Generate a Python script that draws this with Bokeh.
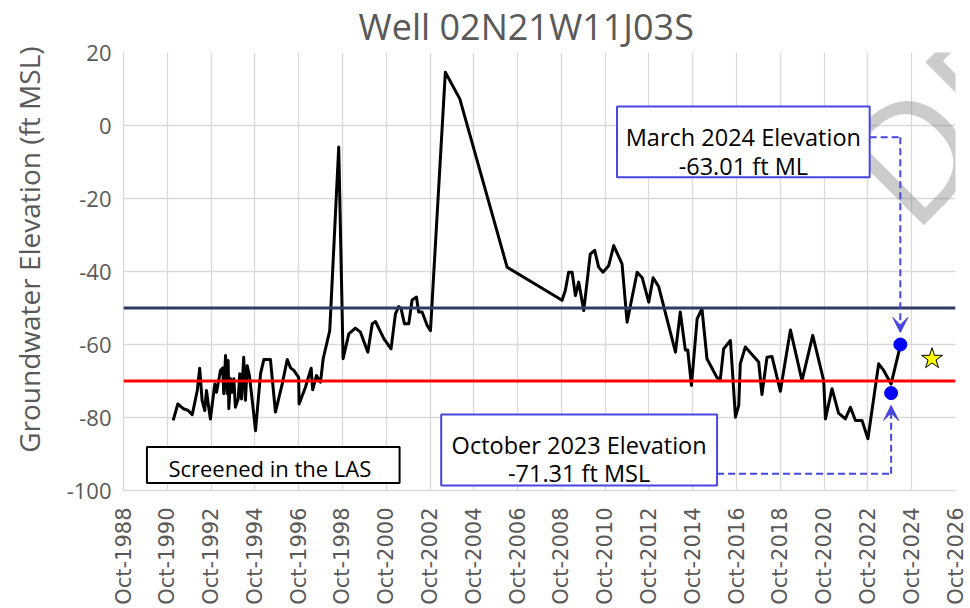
import numpy as np
from bokeh.plotting import figure
from bokeh.models import FixedTicker, Span, Label, BoxAnnotation, Arrow, VeeHead
from bokeh.embed import file_html
from bokeh.resources import INLINE

# ---------------- data ----------------
title_text = "Well 02N21W11J03S"
y_axis_label = "Groundwater Elevation (ft MSL)"

# decimal years of each measurement
years = [
    1991.02, 1991.23, 1991.48, 1991.69, 1991.89, 1992.12, 1992.23, 1992.34, 1992.46, 1992.54,
    1992.62, 1992.72, 1992.92, 1993.00, 1993.18, 1993.28, 1993.33, 1993.41, 1993.49, 1993.53,
    1993.56, 1993.64, 1993.71, 1993.79, 1993.86, 1993.99, 1994.06, 1994.14, 1994.24, 1994.32,
    1994.40, 1994.50, 1994.63, 1994.78, 1995.01, 1995.16, 1995.46, 1995.69, 1996.00, 1996.23,
    1996.38, 1996.53, 1996.75, 1996.77, 1997.06, 1997.32, 1997.39, 1997.56, 1997.75, 1997.87,
    1998.17, 1998.58, 1998.78, 1999.04, 1999.34, 1999.57, 1999.91, 2000.11, 2000.26, 2000.64,
    2000.97, 2001.17, 2001.32, 2001.43, 2001.58, 2001.78, 2001.93, 2002.13, 2002.23, 2002.39,
    2002.62, 2002.77, 2003.45, 2004.11, 2006.27, 2008.78, 2008.93, 2009.08, 2009.24, 2009.39,
    2009.54, 2009.77, 2010.07, 2010.27, 2010.45, 2010.65, 2010.91, 2011.14, 2011.52, 2011.75,
    2012.21, 2012.44, 2012.74, 2012.94, 2013.19, 2013.96, 2014.18, 2014.41, 2014.52, 2014.69,
    2014.95, 2015.17, 2015.40, 2015.86, 2016.01, 2016.16, 2016.47, 2016.70, 2016.85, 2016.92,
    2017.15, 2017.76, 2017.91, 2018.14, 2018.37, 2018.75, 2019.21, 2019.74, 2020.23, 2020.73,
    2020.81, 2021.11, 2021.41, 2021.72, 2021.95, 2022.18, 2022.48, 2022.75, 2023.24, 2023.47,
    2023.81, 2024.23,
]
elevation = [
    -80.8, -76.3, -77.6, -78.0, -79.2, -72.6, -66.5, -75.3, -78.1, -72.6,
    -76.3, -80.4, -70.8, -73.1, -67.1, -66.4, -73.5, -63.0, -73.5, -64.4,
    -77.6, -69.4, -73.1, -69.4, -77.2, -74.9, -68.0, -74.9, -63.5, -75.3,
    -65.8, -68.5, -75.3, -83.6, -68.0, -64.1, -64.1, -78.5, -70.8, -64.1,
    -66.4, -67.1, -69.0, -76.3, -71.7, -66.5, -72.4, -68.5, -70.3, -63.9,
    -56.2, -5.9, -63.9, -57.1, -55.5, -56.6, -62.1, -54.3, -53.7, -58.4,
    -61.2, -51.6, -49.6, -50.2, -54.3, -54.3, -47.8, -47.0, -51.1, -51.1,
    -54.8, -56.2, 14.6, 7.3, -38.8, -47.9, -45.2, -40.2, -40.2, -46.6,
    -42.9, -50.7, -35.2, -34.2, -38.8, -40.2, -38.4, -32.9, -37.9, -53.9,
    -40.2, -41.7, -48.4, -41.7, -44.1, -62.1, -51.1, -61.5, -61.5, -71.2,
    -53.0, -50.2, -63.9, -69.1, -69.4, -61.2, -58.9, -79.9, -76.7, -65.3,
    -60.7, -64.8, -73.7, -63.5, -63.3, -72.8, -56.0, -69.9, -57.5, -69.9,
    -80.4, -72.1, -78.8, -80.4, -77.2, -80.8, -80.8, -85.8, -65.3, -67.1,
    -70.8, -60.3,
]

# highlighted measurements
oct_2023 = (2023.81, -73.3)
mar_2024 = (2024.23, -60.0)
star_pt = (2025.68, -63.9)

# reference levels
upper_level = -50
lower_level = -70

# axes
tick_years = list(range(1988, 2027, 2))
tick_labels = [f"Oct-{y}" for y in tick_years]
y_ticks = [-100, -80, -60, -40, -20, 0, 20]
y_tick_labels = ["-100", "-80", "-60", "-40", "-20", "0", "20"]

# annotation texts
las_text = "Screened in the LAS"
oct_lines = ["October 2023 Elevation", "-71.31 ft MSL"]
mar_lines = ["March 2024 Elevation", "-63.01 ft ML"]
watermark_text = "DRAFT"

# ---------------- figure ----------------
x_ticks = [y + 0.75 for y in tick_years]
GREY = "#595959"
GRID = "#D9D9D9"
BLUE = "#4646E0"
FONT = "Open Sans"

p = figure(width=970, height=608, x_range=(x_ticks[0], x_ticks[-1]), y_range=(-100, 20),
           output_backend="svg", toolbar_location=None,
           min_border_left=123, min_border_right=15, min_border_top=52, min_border_bottom=118,
           background_fill_color="white", border_fill_color="white")
p.outline_line_color = None

p.title.text = title_text
p.title.text_font = FONT
p.title.text_font_size = "36px"
p.title.text_font_style = "normal"
p.title.text_color = GREY
p.title.align = "left"
p.title.vertical_align = "top"
p.title.offset = 235
p.title.standoff = 0

p.xaxis.ticker = FixedTicker(ticks=x_ticks)
p.xaxis.major_label_overrides = {t: l for t, l in zip(x_ticks, tick_labels)}
p.xaxis.major_label_orientation = np.pi / 2
p.xaxis.major_label_text_font = "DejaVu Sans"
p.xaxis.major_label_text_font_size = "21px"
p.xaxis.major_label_text_color = GREY
p.xaxis.major_label_standoff = 17

p.yaxis.ticker = FixedTicker(ticks=y_ticks)
p.yaxis.major_label_overrides = {t: l for t, l in zip(y_ticks, y_tick_labels)}
p.yaxis.major_label_text_font = FONT
p.yaxis.major_label_text_font_size = "22px"
p.yaxis.major_label_text_color = GREY
p.yaxis.major_label_standoff = 12
# leading no-break spaces nudge the centred label upward, as in the reference
p.yaxis.axis_label = "\u00a0" * 6 + y_axis_label
p.yaxis.axis_label_text_font = FONT
p.yaxis.axis_label_text_font_size = "28px"
p.yaxis.axis_label_text_font_style = "normal"
p.yaxis.axis_label_text_color = GREY
p.yaxis.axis_label_standoff = 16

for ax in (p.xaxis, p.yaxis):
    ax.axis_line_color = GRID
    ax.axis_line_width = 1.3
    ax.major_tick_line_color = None
    ax.minor_tick_line_color = None
    ax.major_tick_out = 0
    ax.major_tick_in = 0

p.xgrid.ticker = FixedTicker(ticks=x_ticks)
p.ygrid.ticker = FixedTicker(ticks=y_ticks)
p.xgrid.grid_line_color = GRID
p.ygrid.grid_line_color = GRID
p.xgrid.grid_line_width = 1.3
p.ygrid.grid_line_width = 1.3

# watermark
p.add_layout(Label(x=2022.8, y=-18.3, text=watermark_text, angle=np.pi / 4,
                   text_align="left", text_baseline="alphabetic", text_font=FONT,
                   text_font_size="160px", text_color="#808080", text_alpha=0.4))

# reference lines
p.add_layout(Span(location=upper_level, dimension="width", line_color="#2F3B60", line_width=3))
p.add_layout(Span(location=lower_level, dimension="width", line_color="#FF0000", line_width=3))

# data line
p.line(years, elevation, line_color="black", line_width=3, line_join="round")

# highlighted points
p.scatter([oct_2023[0], mar_2024[0]], [oct_2023[1], mar_2024[1]], size=13,
          fill_color="#0000FF", line_color="#0000FF")
p.scatter([star_pt[0]], [star_pt[1]], marker="star", size=22,
          fill_color="#FFFF00", line_color="black", line_width=1)

# annotation boxes
las_box = dict(left=1989.82, right=2001.36, top=-88.1, bottom=-97.97)
oct_box = dict(left=2003.26, right=2015.86, top=-79.2, bottom=-98.6)
mar_box = dict(left=2011.29, right=2022.83, top=5.2, bottom=-14.2)

p.add_layout(BoxAnnotation(**las_box, fill_color="white", fill_alpha=1,
                           line_color="black", line_width=2, line_alpha=1))
p.add_layout(BoxAnnotation(**oct_box, fill_color="white", fill_alpha=1,
                           line_color=BLUE, line_width=2, line_alpha=1))
p.add_layout(BoxAnnotation(**mar_box, fill_color="white", fill_alpha=1,
                           line_color=BLUE, line_width=2, line_alpha=1))

p.add_layout(Label(x=1990.80, y=-93.9, text=las_text, text_align="left",
                   text_baseline="alphabetic", text_font=FONT, text_font_size="22px",
                   text_color="black"))
oc = (oct_box["left"] + oct_box["right"]) / 2
for txt, yb in zip(oct_lines, [-87.67, -95.34]):
    p.add_layout(Label(x=oc, y=yb, text=txt, text_align="center", text_baseline="alphabetic",
                       text_font=FONT, text_font_size="23.5px", text_color="black"))
mc = (mar_box["left"] + mar_box["right"]) / 2
for txt, yb in zip(mar_lines, [-3.2, -10.96]):
    p.add_layout(Label(x=mc, y=yb, text=txt, text_align="center", text_baseline="alphabetic",
                       text_font=FONT, text_font_size="23.5px", text_color="black"))

# dashed connectors with arrows
oct_conn_y = -95.4
mar_conn_y = -3.2
p.add_layout(Arrow(end=None, x_start=oct_box["right"], y_start=oct_conn_y,
                   x_end=oct_2023[0], y_end=oct_conn_y, line_color=BLUE, line_width=2,
                   line_dash="7 4"))
p.add_layout(Arrow(end=VeeHead(size=15, fill_color=BLUE, line_color=BLUE),
                   x_start=oct_2023[0], y_start=oct_conn_y,
                   x_end=oct_2023[0], y_end=oct_2023[1] - 3.4, line_color=BLUE, line_width=2,
                   line_dash="7 4"))
p.add_layout(Arrow(end=None, x_start=mar_box["right"], y_start=mar_conn_y,
                   x_end=mar_2024[0], y_end=mar_conn_y, line_color=BLUE, line_width=2,
                   line_dash="7 4"))
p.add_layout(Arrow(end=VeeHead(size=15, fill_color=BLUE, line_color=BLUE),
                   x_start=mar_2024[0], y_start=mar_conn_y,
                   x_end=mar_2024[0], y_end=mar_2024[1] + 3.3, line_color=BLUE, line_width=2,
                   line_dash="7 4"))

open("out.html", "w").write(file_html(p, INLINE))
